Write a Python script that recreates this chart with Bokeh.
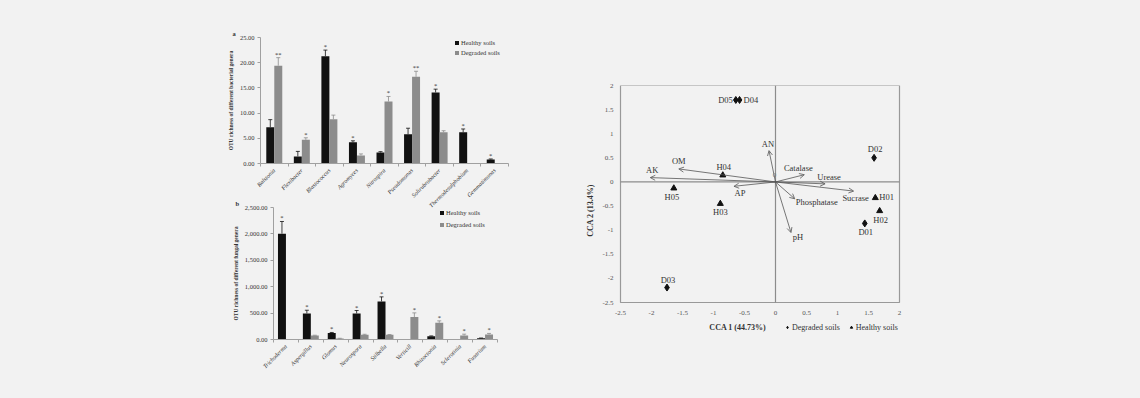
import math
import numpy as np
from bokeh.plotting import figure
from bokeh.models import (ColumnDataSource, Range1d, FixedTicker, NumeralTickFormatter, LabelSet,
                          Label, Legend, LegendItem, Whisker, TeeHead, Arrow, OpenHead,
                          Title, Spacer, GlobalInlineStyleSheet)
from bokeh.layouts import row, column
from bokeh.embed import file_html
from bokeh.resources import INLINE
from bokeh.core.properties import value

# ---------------- data ----------------
bact_genera = ["Ralstonia", "Flexibacter", "Blastococcus", "Agromyces", "Nitrospira",
               "Pseudomonas", "Solirubrobacter", "Thermodesulphobium", "Gemmatimonas"]
bact_healthy = [7.2, 1.4, 21.3, 4.2, 2.2, 5.8, 14.1, 6.2, 0.8]
bact_healthy_err = [1.5, 1.0, 1.2, 0.3, 0.15, 1.2, 0.65, 0.65, 0.1]
bact_degraded = [19.4, 4.7, 8.8, 1.6, 12.3, 17.2, 6.2, 0.0, 0.0]
bact_degraded_err = [1.6, 0.4, 0.8, 0.3, 1.0, 1.1, 0.3, 0.0, 0.0]
bact_healthy_sig = ["", "", "*", "*", "", "", "*", "*", "*"]
bact_degraded_sig = ["**", "*", "", "", "*", "**", "", "", ""]
bact_ticks = [0, 5, 10, 15, 20, 25]

fung_genera = ["Trichoderma", "Aspergillus", "Glomus", "Neurospora", "Stilbella",
               "Verticill", "Rhizoctonia", "Sclerotinia", "Fusarium"]
fung_healthy = [2005, 494, 125, 494, 722, 0, 63, 0, 25]
fung_healthy_err = [230, 60, 8, 55, 85, 0, 5, 0, 3]
fung_degraded = [5, 76, 19, 89, 89, 424, 316, 76, 95]
fung_degraded_err = [0, 5, 4, 10, 5, 80, 37, 25, 20]
fung_healthy_sig = ["*", "*", "*", "*", "*", "", "", "", ""]
fung_degraded_sig = ["", "", "", "", "", "*", "*", "*", "*"]
fung_ticks = [0, 500, 1000, 1500, 2000, 2500]

healthy_names = ["H01", "H02", "H03", "H04", "H05"]
healthy_cca1 = [1.61, 1.68, -0.89, -0.85, -1.64]
healthy_cca2 = [-0.33, -0.60, -0.45, 0.14, -0.13]
degraded_names = ["D01", "D02", "D03", "D04", "D05"]
degraded_cca1 = [1.44, 1.59, -1.75, -0.58, -0.64]
degraded_cca2 = [-0.86, 0.50, -2.19, 1.70, 1.70]

env_names = ["AK", "OM", "AP", "AN", "Catalase", "Urease", "Sucrase", "Phosphatase", "pH"]
env_cca1 = [-2.02, -1.56, -0.67, -0.105, 0.465, 0.80, 1.26, 0.31, 0.25]
env_cca2 = [0.09, 0.27, -0.09, 0.65, 0.15, -0.04, -0.19, -0.35, -1.05]
cca_ticks = [-2.5, -2, -1.5, -1, -0.5, 0, 0.5, 1, 1.5, 2]
cca1_title = "CCA 1 (44.73%)"
cca2_title = "CCA 2 (13.4%)"

# ---------------- label placement (style) ----------------
healthy_lab_align = ["left", "center", "center", "center", "center"]
healthy_lab_base = ["middle", "top", "top", "bottom", "top"]
healthy_lab_dx = [4, 1, 0, 1, -2]
healthy_lab_dy = [1, -4, -3, 3, -4]
degraded_lab_align = ["center", "center", "center", "left", "right"]
degraded_lab_base = ["top", "bottom", "bottom", "middle", "middle"]
degraded_lab_dx = [1, 1, 1, 4, -3]
degraded_lab_dy = [-4, 4, 3, 0, 0]
env_lab_dx = [2, 0, 6, -1, -6, 4, 2, 22, 7]
env_lab_dy = [8, 8, -7, 7, 7, 7, -7, -3, -4]

BG = "#f2f2f2"
FONT = "Liberation Serif"
HCOL = "#111111"
DCOL = "#8c8c8c"
AXC = "#a0a0a0"
TXT = "#333333"


def bar_panel(genera, healthy, healthy_err, degraded, degraded_err, healthy_sig, degraded_sig,
              y_ticks, y_format, y_label, bar_w, width, height, borders, legend_loc, row_h, spacing,
              panel_letter, letter_offset):
    n = len(genera)
    centers = np.arange(n) + 0.5
    p = figure(width=width, height=height, x_range=Range1d(0, n), y_range=Range1d(0, y_ticks[-1]),
               output_backend="svg", toolbar_location=None,
               min_border_left=borders[0], min_border_right=borders[1],
               min_border_top=borders[2], min_border_bottom=borders[3])
    p.background_fill_color = BG
    p.border_fill_color = BG
    p.outline_line_color = None
    p.grid.visible = False
    items = []
    series = [(healthy, healthy_err, healthy_sig, -bar_w / 2, HCOL, "Healthy soils"),
              (degraded, degraded_err, degraded_sig, bar_w / 2, DCOL, "Degraded soils")]
    for vals, errs, sigs, off, col, name in series:
        xs = list(centers + off)
        src = ColumnDataSource(dict(x=xs, top=vals))
        r = p.vbar(x="x", top="top", width=bar_w, source=src, fill_color=col, line_color=None)
        items.append(LegendItem(label=name, renderers=[r]))
        idx = [i for i in range(n) if errs[i] > 0]
        wsrc = ColumnDataSource(dict(x=[xs[i] for i in idx], lower=[vals[i] for i in idx],
                                     upper=[vals[i] + errs[i] for i in idx]))
        p.add_layout(Whisker(source=wsrc, base="x", lower="lower", upper="upper", dimension="height",
                             line_color=col, line_width=0.8,
                             upper_head=TeeHead(size=4, line_color=col, line_width=0.8),
                             lower_head=None))
        ssrc = ColumnDataSource(dict(x=xs, y=[v + e for v, e in zip(vals, errs)], t=sigs))
        p.add_layout(LabelSet(source=ssrc, x="x", y="y", text="t", text_align="center",
                              text_baseline="bottom", y_offset=0, text_font=value(FONT),
                              text_font_size="6.5px", text_color=TXT))
    # category labels on the axis, tick marks between categories
    p.xaxis.ticker = FixedTicker(ticks=list(centers), minor_ticks=list(range(n + 1)))
    p.xaxis.major_label_overrides = {float(c): g for c, g in zip(centers, genera)}
    p.xaxis.major_label_orientation = math.pi / 4
    p.xaxis.major_label_text_font = FONT
    p.xaxis.major_label_text_font_style = "italic"
    p.xaxis.major_label_text_font_size = "6px"
    p.xaxis.major_label_text_color = TXT
    p.xaxis.major_label_standoff = 3
    p.xaxis.major_tick_line_color = None
    p.xaxis.major_tick_out = 0
    p.xaxis.major_tick_in = 0
    p.xaxis.minor_tick_line_color = AXC
    p.xaxis.minor_tick_out = 3
    p.xaxis.minor_tick_in = 0
    p.xaxis.axis_line_color = AXC
    p.yaxis.ticker = FixedTicker(ticks=y_ticks)
    p.yaxis.formatter = NumeralTickFormatter(format=y_format)
    p.yaxis.axis_line_color = AXC
    p.yaxis.major_tick_line_color = AXC
    p.yaxis.major_tick_out = 3
    p.yaxis.major_tick_in = 0
    p.yaxis.minor_tick_line_color = None
    p.yaxis.major_label_text_font = FONT
    p.yaxis.major_label_text_font_size = "6.5px"
    p.yaxis.major_label_text_color = TXT
    p.yaxis.major_label_standoff = 3
    p.yaxis.axis_label = y_label
    p.yaxis.axis_label_text_font = FONT
    p.yaxis.axis_label_text_font_size = "5.5px"
    p.yaxis.axis_label_text_font_style = "bold"
    p.yaxis.axis_label_text_color = TXT
    p.yaxis.axis_label_standoff = 3
    leg = Legend(items=items, location=legend_loc, orientation="vertical", background_fill_alpha=0,
                 border_line_color=None, padding=0, margin=0, spacing=spacing, glyph_width=5,
                 glyph_height=5, label_height=row_h, label_standoff=2, label_text_font=FONT,
                 label_text_font_size="6.5px", label_text_color=TXT)
    p.add_layout(leg)
    p.add_layout(Title(text=panel_letter, align="left", offset=letter_offset, standoff=1,
                       text_font=FONT, text_font_size="6.5px", text_font_style="bold",
                       text_color=TXT), "above")
    return p


fig_a = bar_panel(bact_genera, bact_healthy, bact_healthy_err, bact_degraded, bact_degraded_err,
                  bact_healthy_sig, bact_degraded_sig, bact_ticks, "0.00",
                  "OTU richness of different bacterial genera", 0.29,
                  520, 215, (260, 12, 37, 52), (194, 107), 8, 2, "a", -28)

fig_b = bar_panel(fung_genera, fung_healthy, fung_healthy_err, fung_degraded, fung_degraded_err,
                  fung_healthy_sig, fung_degraded_sig, fung_ticks, "0,0.00",
                  "OTU richness of different fungal genera", 0.32,
                  496, 201, (260, 12, 10, 59), (166, 110), 10, 2, "b", -38)
fig_b.border_fill_alpha = 0

# ---------------- CCA biplot ----------------
lo, hi = cca_ticks[0], cca_ticks[-1]
box_w, box_h = 279.0, 217.0      # pixel size of the -2.5..2 box
pad_l, pad_r, pad_b = 7.0, 5.0, 33.0   # extra frame room for the x-axis texts
ux = (hi - lo) / box_w
uy = (hi - lo) / box_h
fig_c = figure(width=620, height=398,
               x_range=Range1d(lo - pad_l * ux, hi + pad_r * ux),
               y_range=Range1d(lo - pad_b * uy, hi),
               output_backend="svg", toolbar_location=None,
               min_border_left=93, min_border_right=620 - 93 - int(box_w + pad_l + pad_r),
               min_border_top=85, min_border_bottom=398 - 85 - int(box_h + pad_b))
fig_c.background_fill_color = BG
fig_c.border_fill_color = BG
fig_c.outline_line_color = None
fig_c.grid.visible = False
fig_c.xaxis.visible = False
ax = fig_c.yaxis
ax.ticker = FixedTicker(ticks=cca_ticks)
ax.major_label_overrides = {float(t): f"{t:g}" for t in cca_ticks}
ax.axis_line_color = None
ax.major_tick_line_color = None
ax.major_tick_out = 0
ax.major_tick_in = 0
ax.minor_tick_line_color = None
ax.major_label_text_font = FONT
ax.major_label_text_font_size = "7px"
ax.major_label_text_color = "#555555"
ax.major_label_standoff = 0
ax.axis_label = cca2_title
ax.axis_label_text_font = FONT
ax.axis_label_text_font_size = "8px"
ax.axis_label_text_font_style = "bold"
ax.axis_label_text_color = TXT
ax.axis_label_standoff = 4

# box and zero lines
fig_c.quad(left=lo, right=hi, bottom=lo, top=hi, fill_color=None, line_color="#999999", line_width=1.2)
fig_c.segment(x0=[0, lo], y0=[lo, 0], x1=[0, hi], y1=[hi, 0], line_color="#8c8c8c", line_width=1.2)

# x tick labels
xt = ColumnDataSource(dict(x=cca_ticks, y=[lo] * len(cca_ticks), t=[f"{t:g}" for t in cca_ticks]))
fig_c.add_layout(LabelSet(source=xt, x="x", y="y", text="t", y_offset=-10, text_align="center",
                          text_baseline="middle", text_font=value(FONT), text_font_size="7px",
                          text_color="#555555"))

asrc = ColumnDataSource(dict(x0=[0] * len(env_names), y0=[0] * len(env_names), x=env_cca1, y=env_cca2,
                             t=env_names, dx=env_lab_dx, dy=env_lab_dy))
fig_c.add_layout(Arrow(source=asrc, x_start="x0", y_start="y0", x_end="x", y_end="y",
                       line_color="#555555", line_width=0.8,
                       end=OpenHead(size=5, line_color="#555555", line_width=0.8)))
fig_c.add_layout(LabelSet(source=asrc, x="x", y="y", text="t", x_offset="dx", y_offset="dy",
                          text_align="center", text_baseline="middle", text_font=value(FONT),
                          text_font_size="8.5px", text_color=TXT))

hsrc = ColumnDataSource(dict(x=healthy_cca1, y=healthy_cca2, t=healthy_names, al=healthy_lab_align,
                             bl=healthy_lab_base, dx=healthy_lab_dx, dy=healthy_lab_dy))
dsrc = ColumnDataSource(dict(x=degraded_cca1, y=degraded_cca2, t=degraded_names, al=degraded_lab_align,
                             bl=degraded_lab_base, dx=degraded_lab_dx, dy=degraded_lab_dy))
rd = fig_c.scatter(x="x", y="y", source=dsrc, marker="diamond", size=7, color="#111111")
rh = fig_c.scatter(x="x", y="y", source=hsrc, marker="triangle", size=6, color="#111111")
for s in (hsrc, dsrc):
    fig_c.add_layout(LabelSet(source=s, x="x", y="y", text="t", x_offset="dx", y_offset="dy",
                              text_align="al", text_baseline="bl", text_font=value(FONT),
                              text_font_size="8.5px", text_color=TXT))
fig_c.add_layout(Label(x=0, y=0, x_offset=-1, y_offset=7, text="0", text_font=FONT,
                       text_font_size="7px", text_color="#777777", text_align="center",
                       text_baseline="middle"))
fig_c.add_layout(Label(x=-0.61, y=lo, y_offset=-24.5, text=cca1_title, text_font=FONT,
                       text_font_size="8px", text_font_style="bold", text_color=TXT,
                       text_align="center", text_baseline="middle"))
leg_c = Legend(items=[LegendItem(label="Degraded soils", renderers=[rd]),
                      LegendItem(label="Healthy soils", renderers=[rh])],
               location=(171, 3), orientation="horizontal", background_fill_alpha=0,
               border_line_color=None, padding=0, margin=0, spacing=8, glyph_width=6,
               glyph_height=6, label_height=10, label_standoff=2, label_text_font=FONT,
               label_text_font_size="8px", label_text_color=TXT)
fig_c.add_layout(leg_c)

row_b = row(Spacer(width=13, height=201), fig_b, styles={"margin-top": "-18px"})
left = column(fig_a, row_b)
layout = row(left, fig_c,
             stylesheets=[GlobalInlineStyleSheet(css="body { background-color: #f2f2f2; }")])

open("out.html", "w").write(file_html(layout, INLINE))
